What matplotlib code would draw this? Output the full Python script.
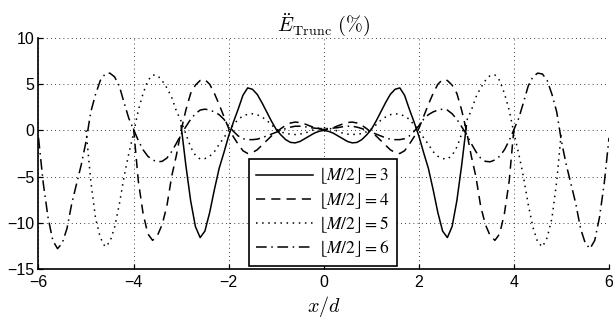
import numpy as np
import matplotlib
matplotlib.use("Agg")
import matplotlib.pyplot as plt

# truncation error (%) along x/d, half profiles for x >= 0 (curves are even in x)
x3 = np.linspace(0, 3, 31)
err3 = [0.0, -0.1, -0.3, -0.6, -0.9, -1.2, -1.35, -1.3, -1.0, -0.5,
        0.1, 1.0, 2.0, 3.0, 3.9, 4.45, 4.6, 3.8, 2.3, 0.9,
        -0.6, -2.4, -4.1, -6.4, -8.9, -10.9, -11.6, -10.4, -7.6, -3.8,
        0.5]

x4 = np.linspace(0, 4, 41)
err4 = [0.1, 0.15, 0.3, 0.5, 0.7, 0.85, 0.9, 0.8, 0.55, 0.2,
        -0.2, -0.6, -1.1, -1.6, -2.1, -2.4, -2.5, -2.2, -1.5, -0.7,
        0.2, 1.5, 2.8, 4.0, 5.0, 5.5, 5.4, 4.9, 4.0, 2.2,
        0.0, -2.7, -5.0, -8.2, -10.2, -11.4, -11.9, -11.2, -9.0, -5.5,
        0.2]

x5 = np.linspace(0, 5, 51)
err5 = [0.3, 0.25, 0.1, -0.1, -0.3, -0.4, -0.45, -0.4, -0.35, -0.15,
        0.15, 0.6, 1.1, 1.45, 1.7, 1.8, 1.75, 1.55, 1.2, 0.6,
        0.0, -0.8, -1.5, -2.3, -2.8, -3.05, -3.1, -2.7, -1.8, -0.4,
        1.0, 2.1, 3.6, 4.6, 5.4, 5.95, 6.0, 5.4, 4.0, 2.2,
        -0.3, -2.5, -5.0, -8.0, -10.5, -12.1, -12.6, -11.6, -9.5, -5.5,
        0.0]

x6 = np.linspace(0, 6, 61)
err6 = [0.2, 0.2, 0.25, 0.3, 0.4, 0.45, 0.45, 0.35, 0.2, 0.0,
        -0.2, -0.4, -0.6, -0.8, -0.95, -1.0, -1.0, -0.9, -0.6, -0.1,
        0.5, 1.2, 1.7, 2.0, 2.2, 2.3, 2.2, 1.8, 1.2, 0.4,
        -0.4, -1.4, -2.3, -3.0, -3.35, -3.4, -3.2, -2.8, -2.1, -1.1,
        0.1, 1.3, 3.0, 4.8, 5.8, 6.2, 6.1, 5.4, 3.9, 2.0,
        -1.2, -3.7, -5.8, -7.9, -10.6, -12.2, -12.8, -11.9, -9.4, -5.7,
        -0.8]

labels = [r'$\lfloor M/2 \rfloor = 3$', r'$\lfloor M/2 \rfloor = 4$',
          r'$\lfloor M/2 \rfloor = 5$', r'$\lfloor M/2 \rfloor = 6$']
xticks = [-6, -4, -2, 0, 2, 4, 6]
yticks = [-15, -10, -5, 0, 5, 10]


def mirror(x, y):
    x = np.asarray(x)
    y = np.asarray(y)
    return np.concatenate([-x[:0:-1], x]), np.concatenate([y[:0:-1], y])


plt.rcParams['font.family'] = ['Liberation Sans', 'DejaVu Sans']
plt.rcParams['font.size'] = 11.5

fig = plt.figure(figsize=(6.13, 3.29), dpi=100)
ax = fig.add_axes([0.0628, 0.1824, 0.9307, 0.7021])

styles = ['-', (0, (6, 4)), (0, (1, 3)), (0, (7, 3, 1, 3))]
series = [(x3, err3), (x4, err4), (x5, err5), (x6, err6)]
for (xs, ys), ls, lab in zip(series, styles, labels):
    xx, yy = mirror(xs, ys)
    ax.plot(xx, yy, color='k', lw=1.1, linestyle=ls, label=lab)

ax.set_xlim(-6, 6)
ax.set_ylim(-15, 10)
ax.set_xticks(xticks)
ax.set_yticks(yticks)
ax.grid(True, color='k', lw=0.6, linestyle=(0, (1, 4)))
ax.spines['top'].set_visible(False)
ax.spines['right'].set_visible(False)
for s in ('left', 'bottom'):
    ax.spines[s].set_linewidth(1.2)
ax.tick_params(direction='in', length=3.5, width=0.9, labelsize=11.5)
ax.tick_params(axis='x', pad=4)
ax.tick_params(axis='y', pad=3)

ax.set_title(r'$\ddot{E}_{\mathrm{Trunc}}\ (\%)$', fontsize=14.5,
             math_fontfamily='cm', pad=5)
ax.set_xlabel(r'$x/d$', fontsize=14.5, math_fontfamily='cm', labelpad=3)

leg = ax.legend(loc='lower left', bbox_to_anchor=(0.369, 0.013),
                borderaxespad=0, fancybox=False, framealpha=1,
                edgecolor='k', handlelength=3.3, handletextpad=0.3,
                borderpad=0.4, labelspacing=0.22, fontsize=12.5)
leg.get_frame().set_linewidth(1.2)
for t in leg.get_texts():
    t.set_math_fontfamily('stix')

fig.savefig('out.png', dpi=100)
